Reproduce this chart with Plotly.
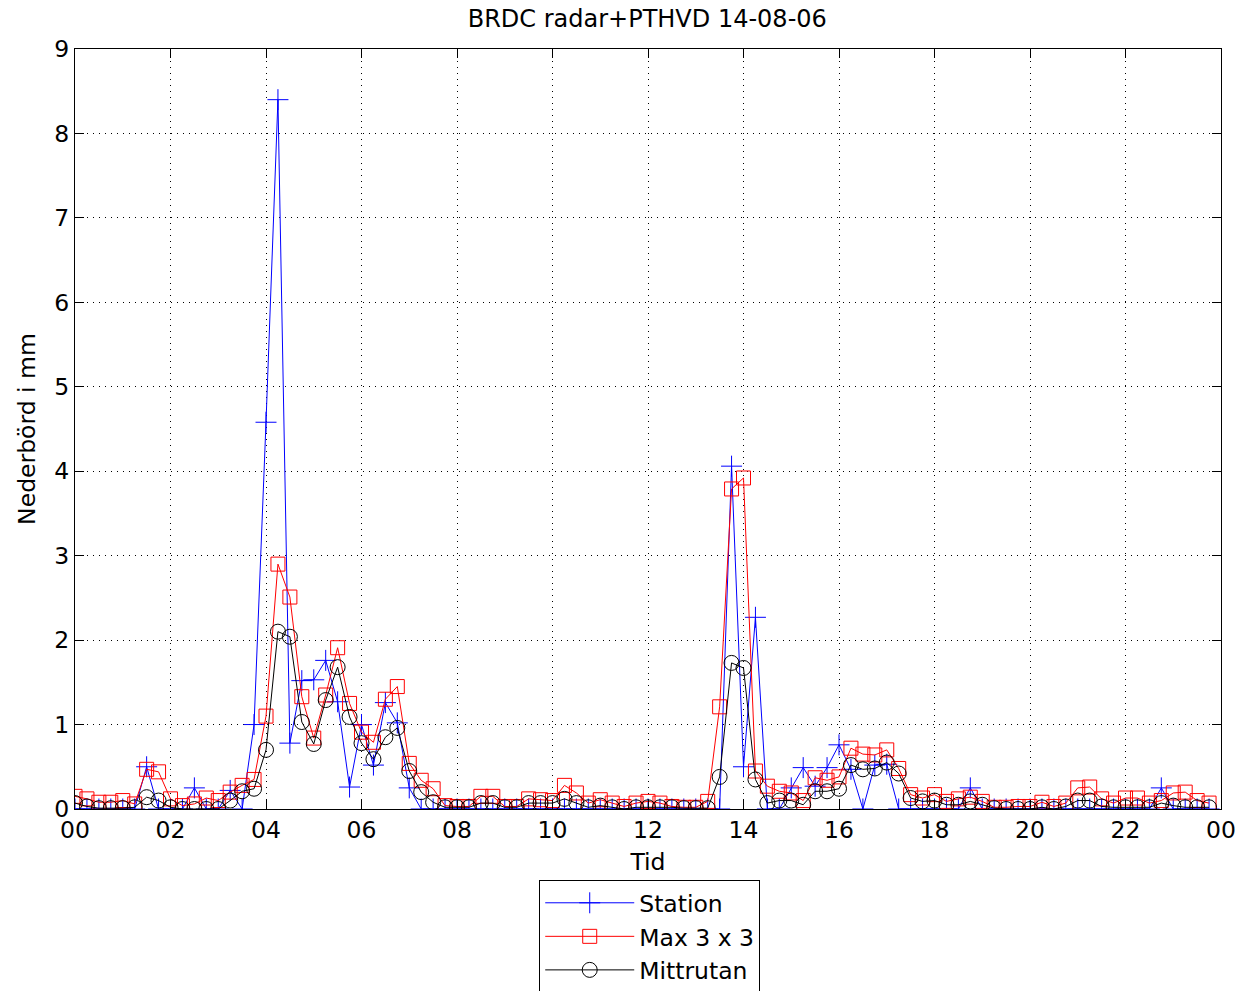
import plotly.graph_objects as go

hours = [i * 0.25 for i in range(96)]

station = [0, 0, 0, 0, 0, 0, 0.5, 0, 0, 0, 0.25, 0, 0, 0.22, 0, 1.0,
           4.58, 8.4, 0.78, 1.52, 1.53, 1.76, 1.27, 0.26, 1.0, 0.52, 1.26, 1.02,
           0.25, 0, 0, 0, 0, 0, 0, 0, 0, 0, 0, 0, 0, 0, 0, 0, 0, 0, 0, 0,
           0, 0, 0, 0, 0, 0, 0, 4.06, 0.5, 2.27, 0, 0, 0.25, 0.49, 0.27, 0.49,
           0.76, 0.47, 0, 0.52, 0.53, 0, 0, 0, 0, 0, 0, 0.25, 0, 0, 0, 0,
           0, 0, 0, 0, 0, 0, 0, 0, 0, 0, 0, 0.25, 0, 0, 0, 0]

max3x3 = [0.15, 0.12, 0.08, 0.08, 0.1, 0.06, 0.47, 0.44, 0.12, 0.04, 0.06, 0.13, 0.1, 0.2, 0.28, 0.35,
          1.1, 2.9, 2.51, 1.33, 0.84, 1.35, 1.91, 1.25, 0.91, 0.79, 1.3, 1.45, 0.54, 0.34, 0.24, 0.04,
          0.03, 0.03, 0.15, 0.15, 0.03, 0.03, 0.12, 0.11, 0.1, 0.28, 0.19, 0.07, 0.11, 0.07, 0.03, 0.07,
          0.09, 0.07, 0.03, 0.02, 0.02, 0.09, 1.21, 3.79, 3.92, 0.45, 0.27, 0.21, 0.19, 0.1, 0.37, 0.34,
          0.38, 0.72, 0.65, 0.64, 0.7, 0.48, 0.17, 0.13, 0.17, 0.09, 0.12, 0.14, 0.09, 0.02, 0.02, 0.03,
          0.03, 0.08, 0.03, 0.07, 0.25, 0.26, 0.12, 0.07, 0.13, 0.13, 0.07, 0.1, 0.19, 0.2, 0.1, 0.07]

mittrutan = [0.07, 0.03, 0.01, 0.01, 0.01, 0.02, 0.14, 0.1, 0.02, 0, 0, 0, 0, 0.1, 0.21, 0.24,
             0.7, 2.1, 2.04, 1.03, 0.77, 1.29, 1.68, 1.09, 0.78, 0.59, 0.85, 0.96, 0.45, 0.2, 0.08, 0.02,
             0.02, 0.02, 0.07, 0.07, 0.02, 0.02, 0.07, 0.07, 0.07, 0.12, 0.07, 0.02, 0.04, 0.02, 0, 0.02,
             0.02, 0.02, 0.02, 0.01, 0.01, 0.01, 0.38, 1.73, 1.67, 0.35, 0.07, 0.1, 0.1, 0.05, 0.21, 0.21,
             0.24, 0.52, 0.47, 0.48, 0.55, 0.42, 0.13, 0.09, 0.1, 0.05, 0.05, 0.09, 0.05, 0.01, 0, 0,
             0, 0.02, 0, 0.03, 0.1, 0.1, 0.03, 0.02, 0.02, 0.02, 0.02, 0.07, 0.04, 0.02, 0.02, 0.02]

xtick_vals = [0, 2, 4, 6, 8, 10, 12, 14, 16, 18, 20, 22, 24]
xtick_text = ["00", "02", "04", "06", "08", "10", "12", "14", "16", "18", "20", "22", "00"]
ytick_vals = [0, 1, 2, 3, 4, 5, 6, 7, 8, 9]

FONT = "DejaVu Sans, Verdana, sans-serif"
FS = 23.5

fig = go.Figure()
fig.add_trace(go.Scatter(
    x=hours, y=station, mode="lines+markers", name="Station",
    line=dict(color="#0000ff", width=1),
    marker=dict(symbol="cross-thin-open", size=15, color="#0000ff",
                line=dict(color="#0000ff", width=1)),
))
fig.add_trace(go.Scatter(
    x=hours, y=max3x3, mode="lines+markers", name="Max 3 x 3",
    line=dict(color="#ff0000", width=1),
    marker=dict(symbol="square-open", size=14, color="#ff0000",
                line=dict(color="#ff0000", width=1)),
))
fig.add_trace(go.Scatter(
    x=hours, y=mittrutan, mode="lines+markers", name="Mittrutan",
    line=dict(color="#000000", width=1),
    marker=dict(symbol="circle-open", size=15, color="#000000",
                line=dict(color="#000000", width=1)),
))

axis_common = dict(
    showline=True, linecolor="black", linewidth=1, mirror="ticks",
    ticks="inside", ticklen=9, tickcolor="black", tickwidth=1,
    showgrid=True, gridcolor="black", gridwidth=1, griddash="1px,5px",
    zeroline=False, automargin=False,
    tickfont=dict(family=FONT, size=FS, color="black"),
)

fig.update_layout(
    width=1240, height=991,
    margin=dict(l=75, r=19, t=49, b=182),
    paper_bgcolor="white", plot_bgcolor="white",
    title=dict(text="BRDC radar+PTHVD 14-08-06", x=0.522, xanchor="center",
               y=0.981, yanchor="middle",
               font=dict(family=FONT, size=24, color="black")),
    xaxis=dict(range=[0, 24], tickvals=xtick_vals, ticktext=xtick_text,
               title=dict(text="Tid", font=dict(family=FONT, size=FS, color="black"), standoff=10),
               **axis_common),
    yaxis=dict(range=[0, 9], tickvals=ytick_vals,
               title=dict(text="Nederbörd i mm", font=dict(family=FONT, size=FS, color="black"), standoff=12),
               **axis_common),
    legend=dict(xref="paper", x=0.5015, xanchor="center",
                yref="container", y=0.112, yanchor="top",
                bordercolor="black", borderwidth=1, bgcolor="white",
                font=dict(family=FONT, size=FS, color="black"),
                tracegroupgap=0, itemwidth=89),
    showlegend=True,
)

fig.write_html("out.html")
